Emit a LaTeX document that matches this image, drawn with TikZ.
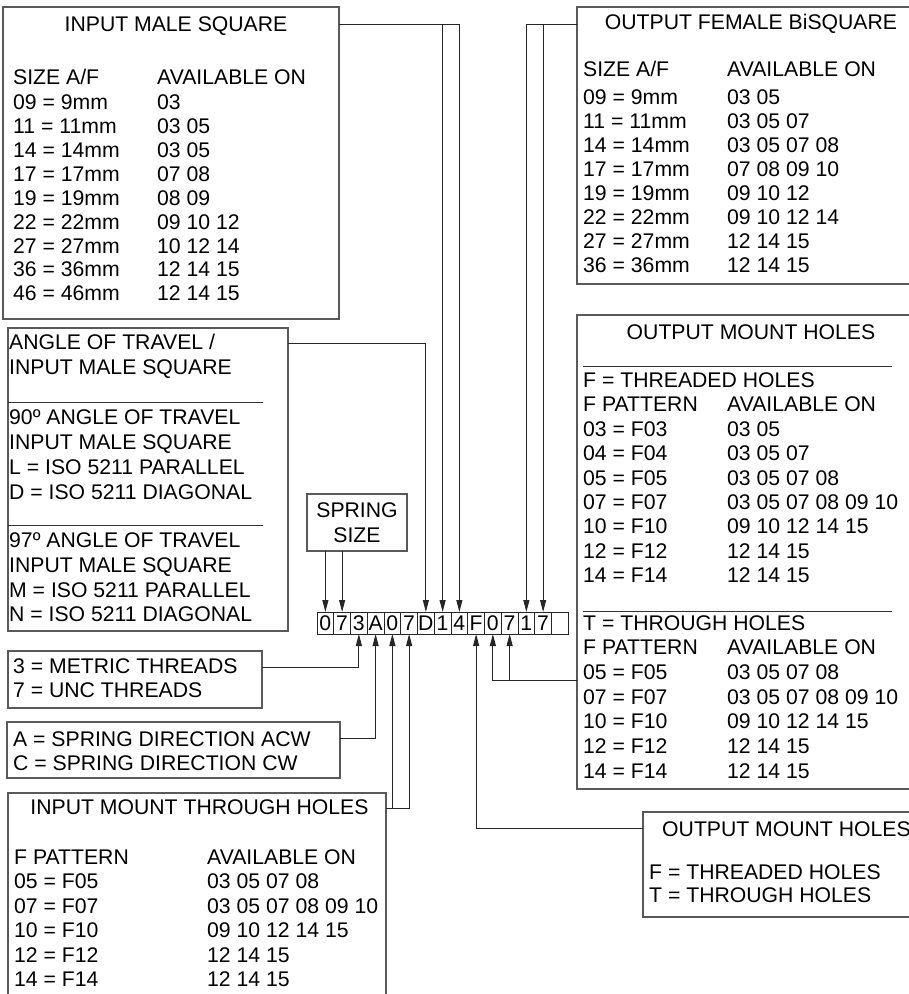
\documentclass[tikz,border=0pt]{standalone}
\usepackage{fontspec}
\setmainfont{Liberation Sans}
\usetikzlibrary{calc,arrows.meta}
\newcommand\fs{\fontsize{21.2}{24}\selectfont}
\begin{document}
\begin{tikzpicture}[x=1pt,y=-1pt,
  box/.style={draw=black!65, line width=1.2pt, inner sep=0pt, outer sep=0pt, anchor=north west},
  cell/.style={draw=black!85, line width=1pt, inner sep=0pt, outer sep=0pt, anchor=north west, minimum width=16.75pt, minimum height=22pt, font=\fs},
  txt/.style={anchor=base west, inner sep=0pt, font=\fs},
  ttl/.style={anchor=base, inner sep=0pt, font=\fs},
  conn/.style={draw=black!85, line width=1pt, -{Triangle[length=12pt,width=6pt]}},
  wire/.style={draw=black!85, line width=1pt},
  rule/.style={draw=black!80, line width=1pt}]
\useasboundingbox (0,0) rectangle (909,994);
\clip (0,0) rectangle (909,994);

% ---------- boxes ----------
\node[box, minimum width=336pt, minimum height=312pt] (A) at (3,7) {};
\node[box, minimum width=350pt, minimum height=277pt] (B) at (577,7) {};
\node[box, minimum width=280pt, minimum height=303pt] (C) at (8,328) {};
\node[box, minimum width=100pt, minimum height=57pt] (S) at (307,494) {};
\node[box, minimum width=350pt, minimum height=474pt] (OM) at (577,315) {};
\node[box, minimum width=254pt, minimum height=57pt] (T) at (8,651) {};
\node[box, minimum width=333pt, minimum height=56pt] (D) at (7,722) {};
\node[box, minimum width=378pt, minimum height=230pt] (I) at (8,793) {};
\node[box, minimum width=290pt, minimum height=105pt] (SM) at (643,812) {};

% ---------- code strip ----------
\foreach \ch [count=\i from 0] in {0,7,3,A,0,7,D,1,4,F,0,7,1,7,\phantom{0}}
  \node[cell] (c\i) at (317+16.75*\i, 612) {\ch};

% ---------- box A : input male square ----------
\node[ttl] (Atitle) at (176,31) {INPUT MALE SQUARE};
\node[txt] (Ahl) at (13,84.3) {SIZE A/F};
\node[txt] (Ahr) at (157,84.3) {AVAILABLE ON};
\foreach \l/\r [count=\k] in {09 = 9mm/03, 11 = 11mm/03 05, 14 = 14mm/03 05,
   17 = 17mm/07 08, 19 = 19mm/08 09, 22 = 22mm/09 10 12, 27 = 27mm/10 12 14,
   36 = 36mm/12 14 15, 46 = 46mm/12 14 15}{
  \node[txt] (Al\k) at (13,109.3+23.95*\k-23.95) {\l};
  \node[txt] (Ar\k) at (157,109.3+23.95*\k-23.95) {\r};
}

% ---------- box B : output female bisquare ----------
\node[ttl] (Btitle) at (751,29.3) {OUTPUT FEMALE BiSQUARE};
\node[txt] (Bhl) at (583,76) {SIZE A/F};
\node[txt] (Bhr) at (727,76) {AVAILABLE ON};
\foreach \l/\r [count=\k] in {09 = 9mm/03 05, 11 = 11mm/03 05 07, 14 = 14mm/03 05 07 08,
   17 = 17mm/07 08 09 10, 19 = 19mm/09 10 12, 22 = 22mm/09 10 12 14,
   27 = 27mm/12 14 15, 36 = 36mm/12 14 15}{
  \node[txt] (Bl\k) at (583,104.3+24.05*\k-24.05) {\l};
  \node[txt] (Br\k) at (727,104.3+24.05*\k-24.05) {\r};
}

% ---------- box C : angle of travel ----------
\node[txt] (C1) at (9,349.9) {ANGLE OF TRAVEL /};
\node[txt] (C2) at (9,374.3) {INPUT MALE SQUARE};
\node[txt] (C3) at (9,424.3) {90º ANGLE OF TRAVEL};
\node[txt] (C4) at (9,449.3) {INPUT MALE SQUARE};
\node[txt] (C5) at (9,474.3) {L = ISO 5211 PARALLEL};
\node[txt] (C6) at (9,499.3) {D = ISO 5211 DIAGONAL};
\node[txt] (C7) at (9,547.6) {97º ANGLE OF TRAVEL};
\node[txt] (C8) at (9,572.6) {INPUT MALE SQUARE};
\node[txt] (C9) at (9,597.6) {M = ISO 5211 PARALLEL};
\node[txt] (C10) at (9,621.6) {N = ISO 5211 DIAGONAL};
\draw[rule] (8,402.3) -- (263,402.3);
\draw[rule] (8,525) -- (263,525);

% ---------- spring size ----------
\node[ttl] (S1) at (357,517.6) {SPRING};
\node[ttl] (S2) at (357,542.6) {SIZE};

% ---------- box OM : output mount holes ----------
\node[ttl] (OMtitle) at (751,339.3) {OUTPUT MOUNT HOLES};
\draw[rule] (583,366.7) -- (892,366.7);
\node[txt] (OMf) at (583,387.6) {F = THREADED HOLES};
\foreach \l/\r [count=\k] in {F PATTERN/AVAILABLE ON, 03 = F03/03 05, 04 = F04/03 05 07,
   05 = F05/03 05 07 08, 07 = F07/03 05 07 08 09 10, 10 = F10/09 10 12 14 15,
   12 = F12/12 14 15, 14 = F14/12 14 15}{
  \node[txt] (OMl\k) at (583,387.6+24.375*\k) {\l};
  \node[txt] (OMr\k) at (727,387.6+24.375*\k) {\r};
}
\draw[rule] (583,611.7) -- (892,611.7);
\node[txt] (OMt) at (583,630.3) {T = THROUGH HOLES};
\foreach \l/\r [count=\k] in {F PATTERN/AVAILABLE ON, 05 = F05/03 05 07 08,
   07 = F07/03 05 07 08 09 10, 10 = F10/09 10 12 14 15,
   12 = F12/12 14 15, 14 = F14/12 14 15}{
  \node[txt] (OTl\k) at (583,630.3+24.67*\k) {\l};
  \node[txt] (OTr\k) at (727,630.3+24.67*\k) {\r};
}

% ---------- box T : threads ----------
\node[txt] (T1) at (13,673.6) {3 = METRIC THREADS};
\node[txt] (T2) at (13,697.6) {7 = UNC THREADS};

% ---------- box D : spring direction ----------
\node[txt] (D1) at (13,746.6) {A = SPRING DIRECTION ACW};
\node[txt] (D2) at (13,770.9) {C = SPRING DIRECTION CW};

% ---------- box I : input mount through holes ----------
\node[ttl] (Ititle) at (199.5,814.3) {INPUT MOUNT THROUGH HOLES};
\foreach \l/\r [count=\k] in {F PATTERN/AVAILABLE ON, 05 = F05/03 05 07 08,
   07 = F07/03 05 07 08 09 10, 10 = F10/09 10 12 14 15,
   12 = F12/12 14 15, 14 = F14/12 14 15}{
  \node[txt] (Il\k) at (14,864.3+24.5*\k-24.5) {\l};
  \node[txt] (Ir\k) at (207,864.3+24.5*\k-24.5) {\r};
}

% ---------- box SM : output mount holes (small) ----------
\node[txt] (SMtitle) at (662,836.5) {OUTPUT MOUNT HOLES};
\node[txt] (SM1) at (649,879) {F = THREADED HOLES};
\node[txt] (SM2) at (649,902) {T = THROUGH HOLES};

% ---------- connectors ----------
\coordinate (pa) at ($(A.north east)+(0,17)$);
\draw[conn] (pa) -| (c8.north);
\draw[conn] (c7.north |- pa) -- (c7.north);

\coordinate (pb) at ($(B.north west)+(0,17)$);
\draw[conn] (pb) -| (c12.north);
\draw[conn] (c13.north |- pb) -- (c13.north);

\coordinate (pc) at ($(C.north east)+(0,15)$);
\draw[conn] (pc) -| (c6.north);

\draw[conn] (c0.north |- S.south) -- (c0.north);
\draw[conn] (c1.north |- S.south) -- (c1.north);

\coordinate (pt) at ($(T.north east)+(0,16)$);
\draw[conn] (pt) -| (c2.south);

\coordinate (pd) at ($(D.north east)+(0,16)$);
\draw[conn] (pd) -| (c3.south);

\coordinate (pi) at ($(I.north east)+(0,15)$);
\draw[conn] (pi) -| (c5.south);
\draw[conn] (c4.south |- pi) -- (c4.south);

\coordinate (po) at ($(OM.north west)+(0,365)$);
\draw[conn] (po) -| (c10.south);
\draw[conn] (c11.south |- po) -- (c11.south);

\coordinate (ps) at ($(SM.north west)+(0,16)$);
\draw[conn] (ps) -| (c9.south);
\end{tikzpicture}
\end{document}
